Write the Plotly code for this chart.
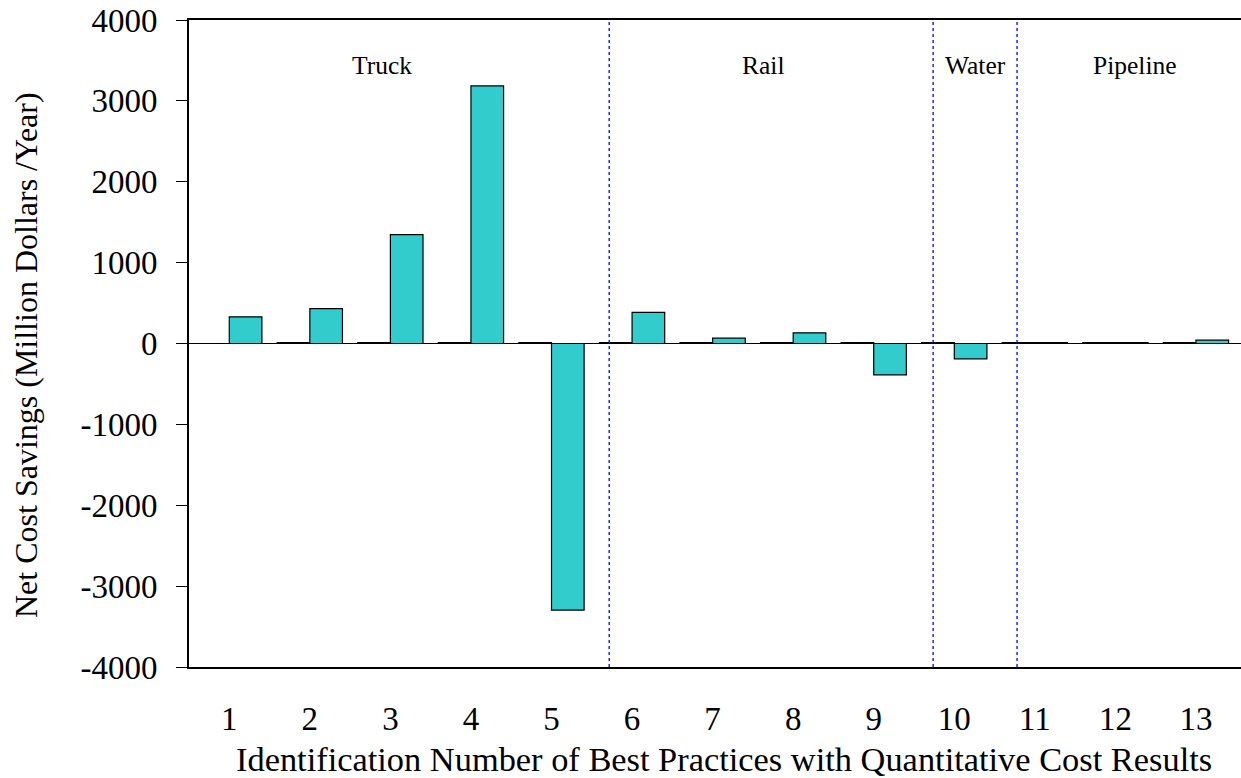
import plotly.graph_objects as go

# ---- data ----
practice_ids = [1, 2, 3, 4, 5, 6, 7, 8, 9, 10, 11, 12, 13]
tick_labels = ["1", "2", "3", "4", "5", "6", "7", "8", "9", "10", "11", "12", "13"]
baseline_series = [None, 12, 12, 12, 12, 12, 12, 12, 12, 12, 12, 12, 12]
net_cost_savings = [330, 432, 1345, 3185, -3296, 386, 66, 132, -387, -189, 12, 12, 41]
y_ticks = [-4000, -3000, -2000, -1000, 0, 1000, 2000, 3000, 4000]
y_tick_labels = ["-4000", "-3000", "-2000", "-1000", "0", "1000", "2000", "3000", "4000"]
mode_names = ["Truck", "Rail", "Water", "Pipeline"]
mode_label_x = [2.90, 7.63, 10.26, 12.24]
mode_separators_x = [5.716, 9.737, 10.779]

FONT = "Liberation Serif, Times New Roman, serif"
W, H = 1241, 778
L, R, T, B = 189, 0, 20, 111

fig = go.Figure()
fig.add_trace(go.Bar(
    x=practice_ids, y=baseline_series, name="Baseline",
    marker=dict(color="#33CCCC", line=dict(color="black", width=1.2)),
    showlegend=False,
))
fig.add_trace(go.Bar(
    x=practice_ids, y=net_cost_savings, name="Net Cost Savings",
    marker=dict(color="#33CCCC", line=dict(color="black", width=1.2)),
    showlegend=False,
))

for xs in mode_separators_x:
    fig.add_shape(type="line", xref="x", yref="paper", x0=xs, x1=xs, y0=0, y1=1,
                  line=dict(color="#0000FF", width=1.3, dash="dot"))

for name, xl in zip(mode_names, mode_label_x):
    fig.add_annotation(x=xl, y=0.929, xref="x", yref="paper", text=name,
                       showarrow=False, font=dict(family=FONT, size=25.5, color="black"),
                       xanchor="center", yanchor="middle")

plot_w = W - L - R
plot_h = H - T - B
# pixel positions in the reference (page coordinates)
def px_to_paper_x(px):
    return (px - L) / plot_w

def py_to_paper_y(py):
    return (H - B - py) / plot_h

fig.add_annotation(x=px_to_paper_x(724), y=py_to_paper_y(759), xref="paper", yref="paper",
                   text="Identification Number of Best Practices with Quantitative Cost Results",
                   showarrow=False, font=dict(family=FONT, size=34.4, color="black"),
                   xanchor="center", yanchor="middle", borderpad=0)
fig.add_annotation(x=px_to_paper_x(26), y=py_to_paper_y(355), xref="paper", yref="paper",
                   text="Net Cost Savings (Million Dollars /Year)", textangle=-90,
                   showarrow=False, font=dict(family=FONT, size=32, color="black"),
                   xanchor="center", yanchor="middle", borderpad=0)

fig.update_layout(
    width=W, height=H,
    margin=dict(l=L, r=R, t=T, b=B, autoexpand=False),
    paper_bgcolor="white", plot_bgcolor="white",
    barmode="group", bargap=0.19, bargroupgap=0,
    font=dict(family=FONT, color="black"),
    showlegend=False,
)
fig.update_xaxes(
    range=[0.5, 13.559], tickmode="array", tickvals=practice_ids, ticktext=tick_labels,
    showline=True, linecolor="black", linewidth=2, mirror=True,
    ticks="", showgrid=False, zeroline=False, automargin=False,
    tickfont=dict(family=FONT, size=33, color="black"), ticklabelstandoff=21,
)
fig.update_yaxes(
    range=[-4000, 4000], tickmode="array", tickvals=y_ticks, ticktext=y_tick_labels,
    showline=True, linecolor="black", linewidth=2, mirror=False,
    ticks="outside", ticklen=11, tickwidth=1, tickcolor="black",
    showgrid=False, zeroline=True, zerolinecolor="black", zerolinewidth=1,
    automargin=False,
    tickfont=dict(family=FONT, size=33, color="black"), ticklabelstandoff=12,
    ticklabeloverflow="allow",
)

fig.write_html(
    "out.html",
    config={"displayModeBar": False},
    post_script="document.body.style.margin='0';document.body.style.overflow='hidden';",
)
